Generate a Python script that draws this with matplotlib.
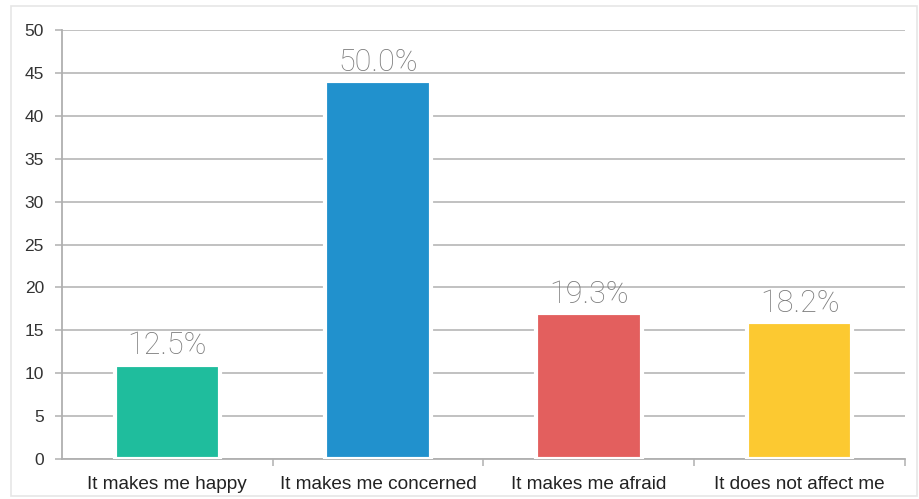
import matplotlib.pyplot as plt
from matplotlib.patches import Rectangle

answers = ['It makes me happy', 'It makes me concerned', 'It makes me afraid', 'It does not affect me']
counts = [11, 44, 17, 16]
percent_labels = ['12.5%', '50.0%', '19.3%', '18.2%']
colors = ['#1fbd9d', '#2191cd', '#e35f5e', '#fcc931']
yticks = [0, 5, 10, 15, 20, 25, 30, 35, 40, 45, 50]

plt.rcParams['font.family'] = ['Liberation Sans', 'DejaVu Sans']

fig = plt.figure(figsize=(9.2, 4.99), dpi=100)
ax = fig.add_axes([62 / 920, 40 / 499, 843 / 920, 429 / 499])

# faint frame round the whole chart
fig.patches.append(Rectangle((11 / 920, 3 / 499), 906 / 920, 490 / 499, transform=fig.transFigure,
                             fill=False, edgecolor='#e6e6e6', linewidth=1.2))

x = list(range(len(answers)))
bars = ax.bar(x, counts, width=0.5, color=colors, edgecolor='white', linewidth=3, zorder=3)

for xi, c, lab in zip(x, counts, percent_labels):
    ax.annotate(lab, (xi, c), xytext=(0, 3), textcoords='offset points', ha='center', va='bottom',
                fontsize=22, color='#7a7a7a', family=['Roboto', 'DejaVu Sans'], fontweight='light',
                zorder=4)

ax.set_xlim(-0.5, 3.5)
ax.set_ylim(0, 50)
ax.set_yticks(yticks)
ax.yaxis.grid(True, color='#b0b0b0', linewidth=1.1, zorder=0)
ax.set_axisbelow(True)

ax.set_xticks(x)
ax.set_xticklabels(answers)
ax.set_xticks([0.5, 1.5, 2.5, 3.5], minor=True)
ax.tick_params(axis='x', which='major', length=0, pad=12, labelsize=13.7, labelcolor='#222222')
ax.tick_params(axis='x', which='minor', length=5, color='#b0b0b0', width=1.1)
ax.tick_params(axis='y', length=5, color='#b0b0b0', width=1.1, pad=8, labelsize=12.5,
               labelcolor='#333333')

for side in ['top', 'right']:
    ax.spines[side].set_visible(False)
for side in ['left', 'bottom']:
    ax.spines[side].set_color('#b0b0b0')
    ax.spines[side].set_linewidth(1.3)

plt.savefig('out.png', dpi=100)
